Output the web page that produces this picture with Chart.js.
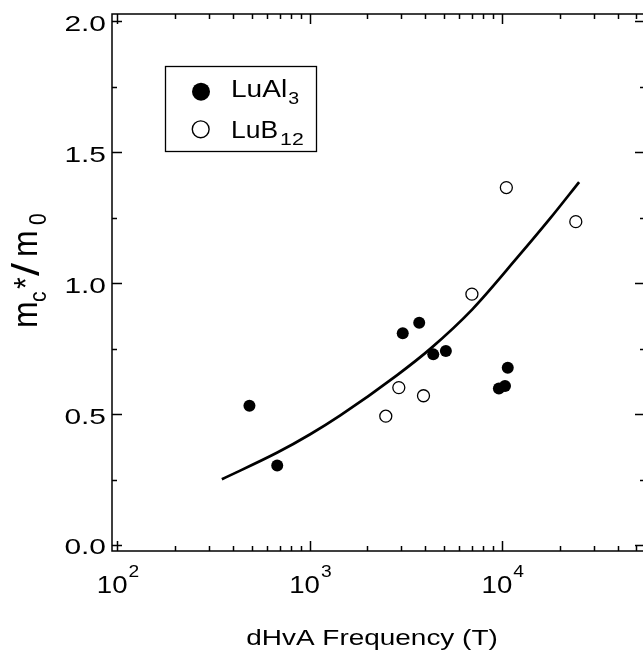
<!DOCTYPE html>
<html>
<head>
<meta charset="utf-8">
<script src="https://cdn.jsdelivr.net/npm/chart.js@4/dist/chart.umd.min.js"></script>
<style>
  html, body { margin: 0; padding: 0; background: #fff; overflow: hidden; }
  #wrap { width: 660px; height: 652px; }
</style>
</head>
<body>
<div id="wrap"><canvas id="massChart" width="660" height="652"></canvas></div>
<script>
// dHvA frequency (T) and cyclotron mass (m_c*/m_0)
const luAl3Freq = [487, 679, 3050, 3715, 4395, 5110, 9640, 10370, 10720];
const luAl3Mass = [0.532, 0.304, 0.809, 0.849, 0.728, 0.741, 0.598, 0.607, 0.677];
const luB12Freq = [2490, 2910, 3910, 6980, 10540, 24200];
const luB12Mass = [0.492, 0.601, 0.570, 0.958, 1.365, 1.235];
// solid guide curve
const fitFreq = [350, 676, 1008, 1445, 2853, 4253, 7015, 12030, 17930, 25180];
const fitMass = [0.251, 0.352, 0.423, 0.495, 0.649, 0.750, 0.900, 1.098, 1.250, 1.386];
// axis ticks
const xDecades = [100, 1000, 10000];
const xDecadeExp = ['2', '3', '4'];
const yTickValues = [0.0, 0.5, 1.0, 1.5, 2.0];
const yTickLabels = ['0.0', '0.5', '1.0', '1.5', '2.0'];

const FONT = '"Liberation Sans", Arial, Helvetica, sans-serif';

function toPoints(xs, ys) {
    return xs.map((x, i) => ({ x: x, y: ys[i] }));
}

// text drawn with a horizontal stretch, like the scanned figure
function stretchText(ctx, str, x, y, size, sx, align) {
    ctx.save();
    ctx.font = size + 'px ' + FONT;
    ctx.textAlign = align || 'left';
    ctx.textBaseline = 'alphabetic';
    ctx.translate(x, y);
    ctx.scale(sx, 1);
    ctx.fillText(str, 0, 0);
    ctx.restore();
    ctx.font = size + 'px ' + FONT;
    return ctx.measureText(str).width * sx;
}

const framePlugin = {
    id: 'frame',
    afterDraw(chart) {
        const ctx = chart.ctx;
        const a = chart.chartArea;
        const xs = chart.scales.x;
        const ys = chart.scales.y;
        ctx.save();
        ctx.strokeStyle = '#000';
        ctx.fillStyle = '#000';
        ctx.lineWidth = 1.5;
        ctx.strokeRect(a.left, a.top, a.right - a.left, a.bottom - a.top);

        // x ticks, inward on bottom and top
        ctx.beginPath();
        for (let d = 100; d <= 10000; d *= 10) {
            for (let m = 1; m <= 9; m++) {
                const v = d * m;
                if (v < xs.min || v > xs.max) continue;
                const px = Math.round(xs.getPixelForValue(v)) + 0.5;
                const len = m === 1 ? 10 : 5;
                ctx.moveTo(px, a.bottom); ctx.lineTo(px, a.bottom - len);
                ctx.moveTo(px, a.top); ctx.lineTo(px, a.top + len);
            }
        }
        // y ticks, inward on left and right
        for (let k = 0; k <= 8; k++) {
            const v = k * 0.25;
            const py = Math.round(ys.getPixelForValue(v)) + 0.5;
            const len = k % 2 === 0 ? 10 : 5;
            ctx.moveTo(a.left, py); ctx.lineTo(a.left + len, py);
            ctx.moveTo(a.right, py); ctx.lineTo(a.right - len, py);
        }
        ctx.stroke();

        // y tick labels
        yTickValues.forEach((v, i) => {
            const py = ys.getPixelForValue(v);
            stretchText(ctx, yTickLabels[i], 106, py + 9.5, 22, 1.36, 'right');
        });
        // x tick labels 10^n
        xDecades.forEach((v, i) => {
            const px = xs.getPixelForValue(v);
            stretchText(ctx, '10', px - 5, 593, 24, 1.15, 'center');
            const w = ctx.measureText('10').width * 1.15;
            stretchText(ctx, xDecadeExp[i], px - 5 + w / 2 + 1, 577, 16, 1.2, 'left');
        });

        // x axis title
        stretchText(ctx, 'dHvA Frequency (T)', 372, 645, 22, 1.27, 'center');

        // y axis title m_c*/m_0, rotated
        ctx.save();
        ctx.translate(37, 328);
        ctx.rotate(-Math.PI / 2);
        ctx.scale(1, 1.1);
        ctx.textBaseline = 'alphabetic';
        ctx.textAlign = 'left';
        ctx.font = '32px ' + FONT;
        ctx.fillText('m', 0, 0);
        ctx.font = '21px ' + FONT;
        ctx.fillText('c', 26, 8);
        ctx.font = '30px ' + FONT;
        ctx.fillText('*', 39, 0);
        ctx.save();
        ctx.translate(52, 2);
        ctx.scale(1.3, 1);
        ctx.font = '36px ' + FONT;
        ctx.fillText('/', 0, 0);
        ctx.restore();
        ctx.font = '32px ' + FONT;
        ctx.fillText('m', 71, 0);
        ctx.font = '21px ' + FONT;
        ctx.fillText('0', 103, 8);
        ctx.restore();

        // legend box
        ctx.lineWidth = 1.3;
        ctx.strokeRect(165.5, 66.5, 151, 85);
        ctx.beginPath();
        ctx.arc(201, 91.7, 9, 0, Math.PI * 2);
        ctx.fill();
        ctx.beginPath();
        ctx.arc(200.7, 129.3, 8.4, 0, Math.PI * 2);
        ctx.lineWidth = 1.4;
        ctx.stroke();
        let w1 = stretchText(ctx, 'LuAl', 231, 97, 23, 1.22, 'left');
        stretchText(ctx, '3', 231 + w1 + 1, 104, 17, 1.15, 'left');
        let w2 = stretchText(ctx, 'LuB', 231, 137.5, 23, 1.15, 'left');
        stretchText(ctx, '12', 231 + w2 + 2, 145, 17, 1.25, 'left');
        ctx.restore();
    }
};

const ctx = document.getElementById('massChart').getContext('2d');
new Chart(ctx, {
    type: 'scatter',
    data: {
        datasets: [
            {
                label: 'fit',
                data: toPoints(fitFreq, fitMass),
                showLine: true,
                cubicInterpolationMode: 'monotone',
                borderColor: '#000',
                borderWidth: 2.7,
                pointRadius: 0,
                fill: false,
                order: 3
            },
            {
                label: 'LuAl3',
                data: toPoints(luAl3Freq, luAl3Mass),
                pointRadius: 6,
                pointBackgroundColor: '#000',
                pointBorderColor: '#000',
                pointBorderWidth: 0,
                order: 1
            },
            {
                label: 'LuB12',
                data: toPoints(luB12Freq, luB12Mass),
                pointRadius: 6,
                pointBackgroundColor: '#fff',
                pointBorderColor: '#000',
                pointBorderWidth: 1.3,
                order: 2
            }
        ]
    },
    options: {
        responsive: false,
        animation: false,
        devicePixelRatio: 1,
        layout: {
            padding: { left: 112, top: 14, right: 15, bottom: 101 }
        },
        scales: {
            x: { type: 'logarithmic', display: false, min: 94, max: 55400 },
            y: { type: 'linear', display: false, min: -0.023, max: 2.028 }
        },
        plugins: {
            legend: { display: false },
            tooltip: { enabled: false }
        }
    },
    plugins: [framePlugin]
});
</script>
</body>
</html>
